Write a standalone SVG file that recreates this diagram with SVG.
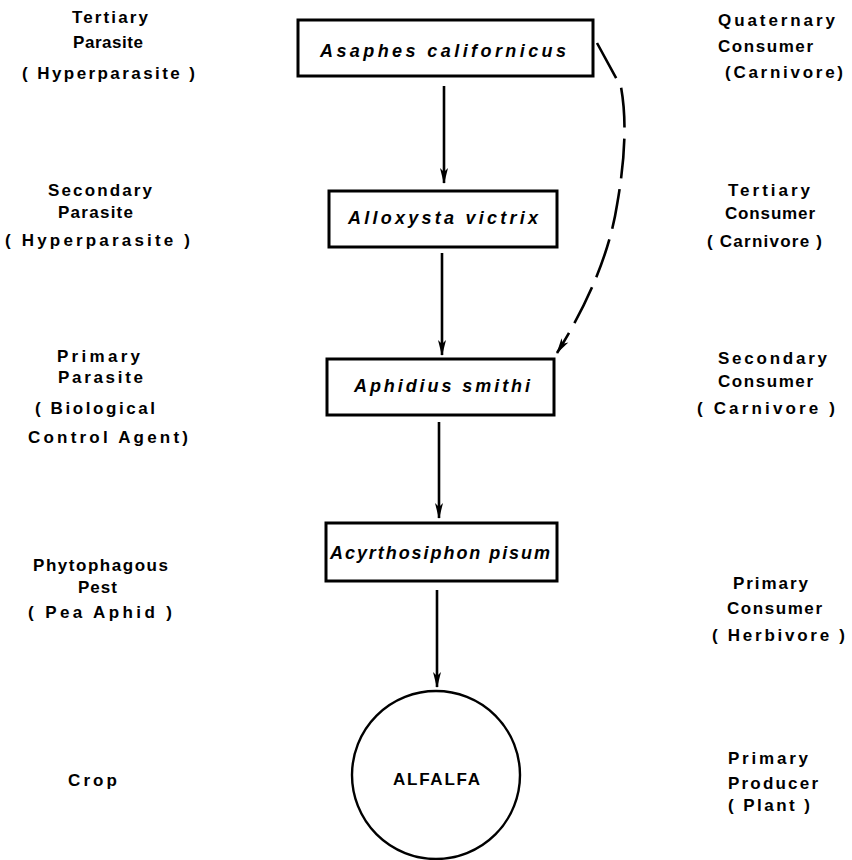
<svg xmlns="http://www.w3.org/2000/svg" width="852" height="860" viewBox="0 0 852 860">
<defs>
<style>
.lbl{font-family:"Liberation Sans","DejaVu Sans",sans-serif;font-weight:bold;font-size:17px;fill:#000}
.sp{font-family:"Liberation Sans","DejaVu Sans",sans-serif;font-weight:bold;font-style:italic;font-size:18px;fill:#000}
.box{fill:#fff;stroke:#000;stroke-width:3}
.ln{fill:none;stroke:#000;stroke-width:2.6}
.dash{fill:none;stroke:#000;stroke-width:2.6;stroke-dasharray:40 11}
</style>
<marker id="ah" viewBox="0 0 16 10" refX="15" refY="5" markerWidth="16" markerHeight="10" markerUnits="userSpaceOnUse" orient="auto">
<path d="M0,1 L16,5 L0,9 L4,5 Z" fill="#000"/>
</marker>
</defs>
<rect width="852" height="860" fill="#fff"/>

<g id="connectors">
<line class="ln" x1="444" y1="86" x2="444" y2="183" marker-end="url(#ah)"/>
<line class="ln" x1="442" y1="253" x2="442" y2="355" marker-end="url(#ah)"/>
<line class="ln" x1="439" y1="422" x2="439" y2="518" marker-end="url(#ah)"/>
<line class="ln" x1="437" y1="590" x2="437" y2="687" marker-end="url(#ah)"/>
<path class="dash" d="M597,43 L621,87 C627,120 625,160 617,205 C610,250 590,300 557,353" marker-end="url(#ah)"/>
</g>

<g id="node-asaphes">
<rect class="box" x="298" y="20" width="295" height="56"/>
<text class="sp" x="320" y="57" textLength="246" lengthAdjust="spacing">Asaphes californicus</text>
</g>
<g id="node-alloxysta">
<rect class="box" x="329" y="191" width="228" height="56"/>
<text class="sp" x="348" y="224" textLength="190" lengthAdjust="spacing">Alloxysta victrix</text>
</g>
<g id="node-aphidius">
<rect class="box" x="327" y="359" width="227" height="56"/>
<text class="sp" x="354" y="392" textLength="176" lengthAdjust="spacing">Aphidius smithi</text>
</g>
<g id="node-acyrthosiphon">
<rect class="box" x="326" y="523" width="231" height="58"/>
<text class="sp" x="330" y="559" textLength="220" lengthAdjust="spacing">Acyrthosiphon pisum</text>
</g>
<g id="node-alfalfa">
<circle cx="436" cy="775" r="84" fill="#fff" stroke="#000" stroke-width="2.4"/>
<text class="lbl" x="393" y="785" textLength="87" lengthAdjust="spacing" style="font-size:17px;font-weight:600">ALFALFA</text>
</g>

<g id="labels-left">
<text class="lbl" x="72" y="23" textLength="76" lengthAdjust="spacing">Tertiary</text>
<text class="lbl" x="73" y="48" textLength="70" lengthAdjust="spacing">Parasite</text>
<text class="lbl" x="22" y="79" textLength="173" lengthAdjust="spacing">( Hyperparasite )</text>
<text class="lbl" x="48" y="196" textLength="104" lengthAdjust="spacing">Secondary</text>
<text class="lbl" x="58" y="218" textLength="75" lengthAdjust="spacing">Parasite</text>
<text class="lbl" x="5" y="246" textLength="185" lengthAdjust="spacing">( Hyperparasite )</text>
<text class="lbl" x="57" y="362" textLength="83" lengthAdjust="spacing">Primary</text>
<text class="lbl" x="58" y="383" textLength="85" lengthAdjust="spacing">Parasite</text>
<text class="lbl" x="35" y="414" textLength="120" lengthAdjust="spacing">( Biological</text>
<text class="lbl" x="28" y="443" textLength="160" lengthAdjust="spacing">Control Agent)</text>
<text class="lbl" x="33" y="571" textLength="135" lengthAdjust="spacing">Phytophagous</text>
<text class="lbl" x="78" y="593" textLength="39" lengthAdjust="spacing">Pest</text>
<text class="lbl" x="28" y="618" textLength="144" lengthAdjust="spacing">( Pea Aphid )</text>
<text class="lbl" x="68" y="786" textLength="49" lengthAdjust="spacing">Crop</text>
</g>

<g id="labels-right">
<text class="lbl" x="718" y="26" textLength="117" lengthAdjust="spacing">Quaternary</text>
<text class="lbl" x="718" y="52" textLength="95" lengthAdjust="spacing">Consumer</text>
<text class="lbl" x="725" y="78" textLength="118" lengthAdjust="spacing">(Carnivore)</text>
<text class="lbl" x="728" y="196" textLength="82" lengthAdjust="spacing">Tertiary</text>
<text class="lbl" x="725" y="219" textLength="90" lengthAdjust="spacing">Consumer</text>
<text class="lbl" x="707" y="247" textLength="115" lengthAdjust="spacing">( Carnivore )</text>
<text class="lbl" x="718" y="364" textLength="109" lengthAdjust="spacing">Secondary</text>
<text class="lbl" x="718" y="387" textLength="95" lengthAdjust="spacing">Consumer</text>
<text class="lbl" x="697" y="414" textLength="138" lengthAdjust="spacing">( Carnivore )</text>
<text class="lbl" x="733" y="589" textLength="75" lengthAdjust="spacing">Primary</text>
<text class="lbl" x="727" y="614" textLength="95" lengthAdjust="spacing">Consumer</text>
<text class="lbl" x="712" y="641" textLength="133" lengthAdjust="spacing">( Herbivore )</text>
<text class="lbl" x="728" y="764" textLength="80" lengthAdjust="spacing">Primary</text>
<text class="lbl" x="728" y="789" textLength="90" lengthAdjust="spacing">Producer</text>
<text class="lbl" x="728" y="811" textLength="82" lengthAdjust="spacing">( Plant )</text>
</g>
</svg>
